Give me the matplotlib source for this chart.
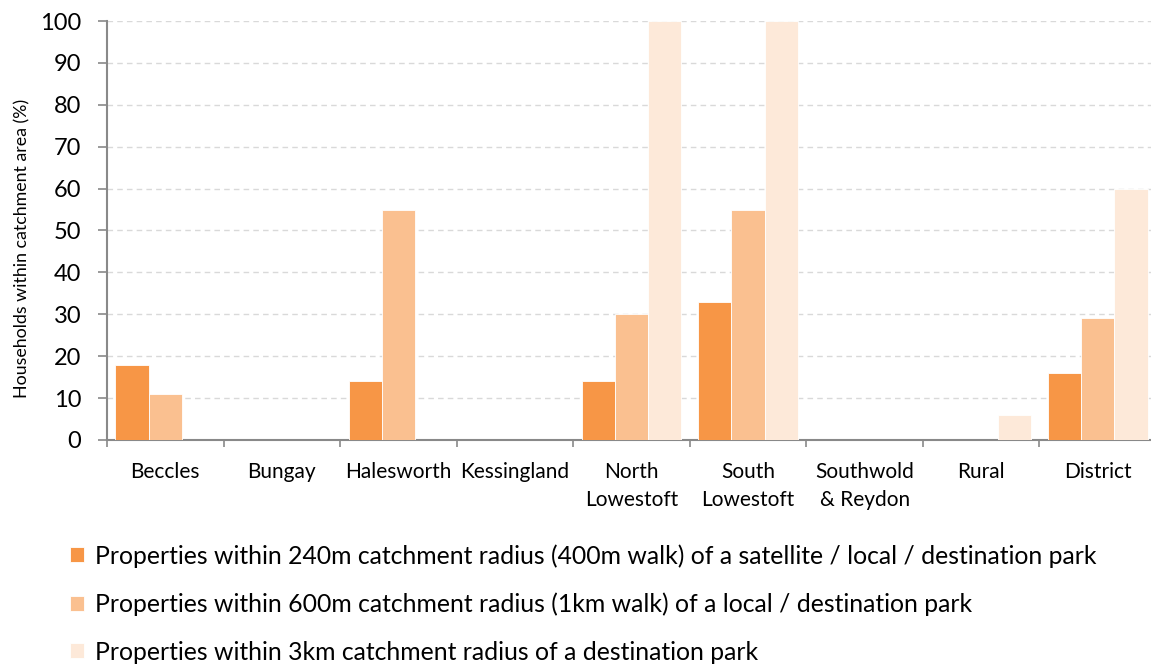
import matplotlib
matplotlib.use("Agg")
import matplotlib.pyplot as plt
import numpy as np

categories = ["Beccles", "Bungay", "Halesworth", "Kessingland", "North\nLowestoft",
              "South\nLowestoft", "Southwold\n& Reydon", "Rural", "District"]
s240 = [18, 0, 14, 0, 14, 33, 0, 0, 16]
s600 = [11, 0, 55, 0, 30, 55, 0, 0, 29]
s3k = [0, 0, 0, 0, 100, 100, 0, 6, 60]
labels = ["Properties within 240m catchment radius (400m walk) of a satellite / local / destination park",
          "Properties within 600m catchment radius (1km walk) of a local / destination park",
          "Properties within 3km catchment radius of a destination park"]
colors = ["#F79646", "#FAC090", "#FDE9D9"]
yticks = [0, 10, 20, 30, 40, 50, 60, 70, 80, 90, 100]

plt.rcParams['font.family'] = ['Lato', 'DejaVu Sans']
fig = plt.figure(figsize=(11.51, 6.66), dpi=100)
W, H = 1151, 666
ax = fig.add_axes([107 / W, 1 - 440 / H, (1156 - 107) / W, (440 - 21) / H])

x = np.arange(len(categories))
bw = 0.285
handles = []
for i, (vals, c, lab) in enumerate(zip([s240, s600, s3k], colors, labels)):
    b = ax.bar(x + (i - 1) * bw, vals, bw, color=c, edgecolor="white", linewidth=0.6, label=lab, zorder=3)
    handles.append(b)

ax.set_xlim(-0.5, len(categories) - 0.5)
ax.set_ylim(0, 100)
ax.set_yticks(yticks)
ax.set_yticklabels([str(v) for v in yticks], fontsize=17, color="#000000")
ax.set_xticks(x)
ax.set_xticklabels(categories, fontsize=15, linespacing=1.5)
ax.tick_params(axis='x', which='major', length=0, pad=16)
ax.set_xticks(np.arange(-0.5, len(categories), 1), minor=True)
ax.tick_params(axis='x', which='minor', length=5, width=1.2, color="#898989", direction='out')
ax.tick_params(axis='y', length=6.5, width=1.2, color="#898989", direction='out', pad=12)

ax.grid(axis='y', linestyle=(0, (4, 3)), color="#D9D9D9", linewidth=1, zorder=0)
for s in ['top', 'right']:
    ax.spines[s].set_visible(False)
for s in ['left', 'bottom']:
    ax.spines[s].set_color("#898989")
    ax.spines[s].set_linewidth(1.5)
ax.set_ylabel("Households within catchment area (%)", fontsize=12.8)
ax.yaxis.set_label_coords(-0.0734, 0.456)

leg = fig.legend(handles=handles, labels=labels, loc='upper left',
                 bbox_to_anchor=(70 / W, 1 - 544 / H), frameon=False, fontsize=17.8,
                 handlelength=0.55, handleheight=0.55, handletextpad=0.45, labelspacing=1.0,
                 borderaxespad=0, borderpad=0)

fig.savefig("out.png", dpi=100)
